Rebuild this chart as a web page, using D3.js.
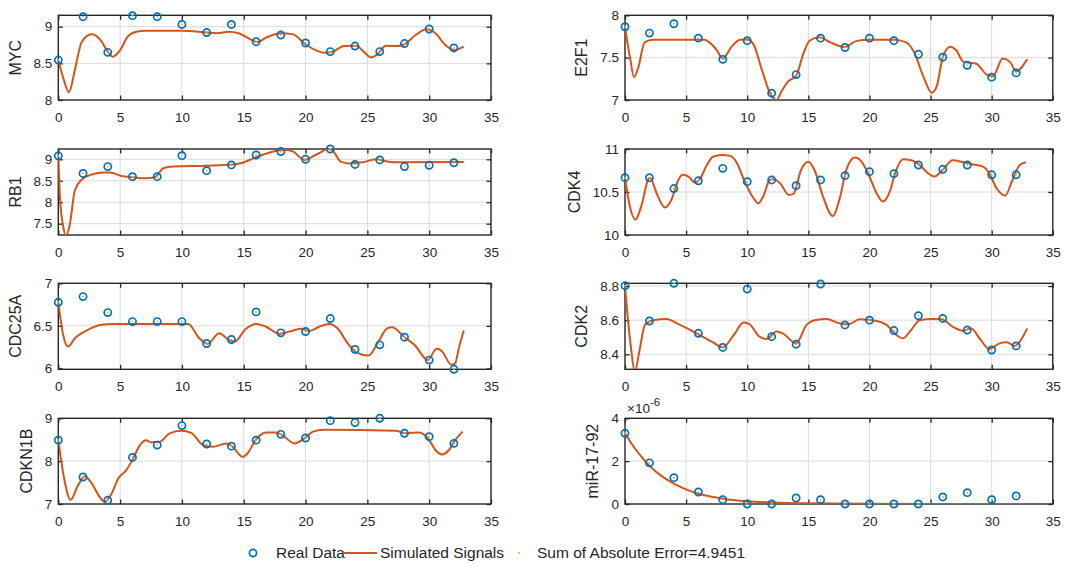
<!DOCTYPE html>
<html><head><meta charset="utf-8">
<script src="https://cdn.jsdelivr.net/npm/d3@7"></script>
<style>
html,body{margin:0;padding:0;background:#fff;}
svg{display:block;font-family:"Liberation Sans",Arial,Helvetica,sans-serif;}
</style></head>
<body><svg id="chart" width="1067" height="564"></svg>
<script>
// ---------------- DATA ----------------
const timePoints = [0,2,4,6,8,10,12,14,16,18,20,22,24,26,28,30,32];
const xTicks = [0,5,10,15,20,25,30,35];

const mycReal = [8.545,9.136,8.65,9.15,9.136,9.03,8.92,9.03,8.795,8.886,8.777,8.66,8.736,8.66,8.77,8.968,8.71];
const mycSimT = [0,0.4,0.86,1.34,1.9,2.7,3.4,4.0,4.4,5.0,5.6,6.3,7.1,10,12,12.8,13.8,14.6,15.3,16.1,16.8,18,19,19.9,20.8,21.5,22.2,23.1,24.1,24.7,25.3,25.8,26.5,27.4,28,28.9,29.8,30.5,31.3,32.0,32.8];
const mycSimV = [8.545,8.30,8.105,8.41,8.795,8.895,8.82,8.66,8.59,8.68,8.86,8.93,8.945,8.945,8.92,8.91,8.93,8.91,8.85,8.79,8.85,8.91,8.895,8.77,8.68,8.645,8.66,8.736,8.74,8.66,8.58,8.62,8.74,8.736,8.76,8.886,8.964,8.91,8.75,8.68,8.727];

const e2f1Real = [7.865,7.79,7.90,7.73,7.48,7.70,7.08,7.30,7.73,7.62,7.73,7.70,7.54,7.505,7.41,7.27,7.32];
const e2f1SimT = [0,0.4,0.74,1.1,1.6,2.3,6.5,6.9,7.5,8.0,8.7,9.4,10,10.5,11.2,11.85,12.4,12.8,13.35,14.0,14.6,15.1,15.9,16.8,18,18.9,20,22,23,23.7,24.4,25.1,25.5,26.0,26.6,27.1,27.7,28.2,28.7,29.6,30.1,30.9,31.5,32.0,32.9];
const e2f1SimV = [7.857,7.51,7.27,7.39,7.68,7.71,7.71,7.68,7.59,7.49,7.625,7.71,7.714,7.66,7.355,7.085,7.0,7.1,7.22,7.285,7.55,7.70,7.74,7.68,7.625,7.695,7.71,7.71,7.68,7.55,7.28,7.085,7.16,7.51,7.63,7.587,7.45,7.44,7.43,7.30,7.28,7.49,7.45,7.34,7.48];

const rb1Real = [9.08,8.67,8.83,8.595,8.595,9.085,8.735,8.87,9.10,9.18,9.0,9.24,8.88,8.985,8.83,8.86,8.92];
const rb1SimT = [0,0.13,0.4,0.62,0.94,1.34,1.9,2.55,3.6,4.2,5.1,6.05,7.1,7.8,8.5,9.3,12,14.1,14.9,16,17.1,18.3,19,19.9,20.8,21.9,22.2,22.85,23.5,24.6,25.7,26.7,27.55,32.8];
const rb1SimV = [9.08,8.13,7.43,7.21,7.5,8.28,8.53,8.63,8.69,8.69,8.61,8.58,8.556,8.58,8.79,8.83,8.85,8.88,8.92,9.05,9.16,9.22,9.18,8.985,9.10,9.24,9.2,8.945,8.905,8.93,9.0,8.945,8.93,8.937];

const cdk4Real = [10.667,10.667,10.54,10.63,10.775,10.62,10.64,10.574,10.64,10.69,10.736,10.713,10.814,10.764,10.814,10.70,10.70];
const cdk4SimT = [0,0.4,0.87,1.36,1.9,2.04,2.6,3.27,3.8,4.36,4.7,5.2,5.7,6.1,6.7,7.2,7.9,8.6,9.1,9.8,10.5,10.9,11.3,11.85,12.1,12.7,13.4,13.8,14.4,15.0,15.5,16.2,17.0,17.6,18.1,18.8,19.35,20.0,20.6,21.1,21.7,22.1,22.75,23.4,24.1,24.8,25.3,26.0,26.8,27.7,28.5,29.3,29.8,30.4,31.1,31.7,32.3,32.8];
const cdk4SimV = [10.667,10.33,10.18,10.35,10.647,10.667,10.48,10.32,10.41,10.64,10.70,10.68,10.61,10.647,10.814,10.91,10.93,10.92,10.85,10.62,10.43,10.37,10.446,10.64,10.647,10.60,10.465,10.48,10.756,10.853,10.756,10.446,10.22,10.446,10.756,10.90,10.853,10.68,10.48,10.39,10.52,10.717,10.88,10.87,10.814,10.717,10.68,10.76,10.87,10.845,10.82,10.795,10.717,10.543,10.457,10.64,10.814,10.845];

const cdc25aReal = [6.777,6.844,6.656,6.55,6.55,6.55,6.293,6.34,6.664,6.418,6.434,6.586,6.223,6.277,6.367,6.098,5.99];
const cdc25aSimT = [0,0.4,0.8,1.34,1.9,2.55,3.36,4.4,10.5,11.4,12.1,13.0,13.8,14.25,15.2,16.0,16.8,17.9,18.7,19.6,20.3,21.1,21.9,22.6,23.4,24.1,25.1,25.9,26.6,27.0,28.0,28.8,29.9,30.6,31.0,31.8,32.1,32.4,32.8];
const cdc25aSimV = [6.777,6.39,6.258,6.355,6.414,6.465,6.51,6.523,6.523,6.355,6.29,6.414,6.336,6.316,6.47,6.523,6.49,6.406,6.434,6.465,6.44,6.49,6.523,6.47,6.297,6.19,6.152,6.316,6.47,6.484,6.367,6.277,6.10,6.23,6.207,6.043,6.06,6.24,6.445];

const cdk2Real = [8.802,8.595,8.816,8.523,8.44,8.782,8.503,8.459,8.812,8.572,8.60,8.539,8.626,8.61,8.542,8.425,8.449];
const cdk2SimT = [0,0.4,0.82,1.17,1.63,2.3,3.4,4.5,5.86,7.2,8.0,8.9,9.7,10.2,11.0,11.6,12.4,12.9,14.0,14.85,15.5,16.5,17.6,18.3,19.2,20.6,21.4,22.2,22.75,23.4,24.1,25.1,25.9,26.8,27.65,28.3,29.0,29.8,30.65,31.2,31.9,32.3,32.9];
const cdk2SimV = [8.802,8.494,8.302,8.416,8.572,8.60,8.607,8.572,8.523,8.47,8.44,8.513,8.587,8.576,8.503,8.49,8.533,8.523,8.464,8.572,8.60,8.607,8.58,8.576,8.605,8.595,8.572,8.513,8.494,8.542,8.60,8.607,8.605,8.562,8.537,8.552,8.494,8.431,8.464,8.47,8.449,8.474,8.552];

const cdkn1bReal = [8.49,7.63,7.086,8.086,8.375,8.83,8.40,8.35,8.49,8.625,8.54,8.945,8.90,9.0,8.65,8.57,8.414];
const cdkn1bSimT = [0,0.4,1.0,1.6,2.15,2.7,3.36,3.76,4.3,4.84,5.5,6.05,6.6,7.1,7.5,8.2,9.0,9.95,10.75,11.7,12.5,13.6,14.1,14.9,15.3,16.0,16.8,17.6,18.1,19.1,19.9,20.6,21.5,27.3,28.1,29.2,30.0,30.5,31.05,31.6,32.1,32.7];
const cdkn1bSimV = [8.49,7.71,7.10,7.44,7.65,7.48,7.16,7.05,7.24,7.59,7.79,8.06,8.375,8.49,8.44,8.45,8.65,8.71,8.66,8.375,8.336,8.414,8.336,8.10,8.18,8.51,8.67,8.67,8.61,8.414,8.53,8.69,8.73,8.71,8.65,8.67,8.49,8.26,8.156,8.26,8.49,8.69];

// miR-17-92 values in units of 1e-6
const mirReal = [3.30,1.92,1.23,0.56,0.20,0.0,0.0,0.28,0.20,0.0,0.0,0.0,0.0,0.33,0.53,0.20,0.375];
const mirSimT = [0,0.5,1,1.5,2,3,4,5,6,7,8,10,12,15,20,25,32.9];
const mirSimV = [3.3,2.85,2.45,2.1,1.78,1.3,0.95,0.68,0.48,0.35,0.25,0.13,0.07,0.03,0.01,0.005,0.0];

const legendLabels = ["Real Data","Simulated Signals","Sum of Absolute Error=4.9451"];

// ---------------- LAYOUT / STYLE ----------------
const colX = [[58.3,491],[625,1052.8]];
const rowY = [[15.3,100],[149,235],[283.3,369.3],[418.3,504]];
const C_REAL = "#0072BD", C_SIM = "#D95319", C_DOT = "#EDB120", C_AX = "#262626";

const panels = [
  {name:"MYC",    col:0,row:0,dom:[8,9.155],  yt:[8,8.5,9],       real:mycReal,   st:mycSimT,   sv:mycSimV},
  {name:"E2F1",   col:1,row:0,dom:[7,8],      yt:[7,7.5,8],       real:e2f1Real,  st:e2f1SimT,  sv:e2f1SimV},
  {name:"RB1",    col:0,row:1,dom:[7.236,9.24],yt:[7.5,8,8.5,9],  real:rb1Real,   st:rb1SimT,   sv:rb1SimV},
  {name:"CDK4",   col:1,row:1,dom:[10,11],    yt:[10,10.5,11],    real:cdk4Real,  st:cdk4SimT,  sv:cdk4SimV},
  {name:"CDC25A", col:0,row:2,dom:[5.99,7],   yt:[6,6.5,7],       real:cdc25aReal,st:cdc25aSimT,sv:cdc25aSimV},
  {name:"CDK2",   col:1,row:2,dom:[8.312,8.816],yt:[8.4,8.6,8.8], real:cdk2Real,  st:cdk2SimT,  sv:cdk2SimV},
  {name:"CDKN1B", col:0,row:3,dom:[7,9],      yt:[7,8,9],         real:cdkn1bReal,st:cdkn1bSimT,sv:cdkn1bSimV},
  {name:"miR-17-92",col:1,row:3,dom:[0,4],    yt:[0,2,4],         real:mirReal,   st:mirSimT,   sv:mirSimV, exp:true}
];

const svg = d3.select("#chart");
const defs = svg.append("defs");
const TICKFS = 13.5, LABFS = 16;

panels.forEach((p,i)=>{
  const [x0,x1] = colX[p.col], [y0,y1] = rowY[p.row];
  const x = d3.scaleLinear().domain([0,35]).range([x0,x1]);
  const y = d3.scaleLinear().domain(p.dom).range([y1,y0]);
  const g = svg.append("g");

  // grid
  g.append("g").selectAll("line").data(xTicks.filter(t=>t>0&&t<35)).join("line")
    .attr("x1",d=>x(d)).attr("x2",d=>x(d)).attr("y1",y0).attr("y2",y1)
    .attr("stroke","#dadada").attr("stroke-width",1);
  g.append("g").selectAll("line").data(p.yt.filter(t=>y(t)>y0+1&&y(t)<y1-1)).join("line")
    .attr("y1",d=>y(d)).attr("y2",d=>y(d)).attr("x1",x0).attr("x2",x1)
    .attr("stroke","#dadada").attr("stroke-width",1);

  // axes (inward ticks on all four sides)
  const fmt = d => String(d);
  const axB = g.append("g").attr("transform",`translate(0,${y1})`)
    .call(d3.axisBottom(x).tickValues(xTicks).tickSizeInner(-4.5).tickSizeOuter(0).tickPadding(12).tickFormat(fmt));
  const axT = g.append("g").attr("transform",`translate(0,${y0})`)
    .call(d3.axisTop(x).tickValues(xTicks).tickSizeInner(-4.5).tickSizeOuter(0).tickFormat(""));
  const axL = g.append("g").attr("transform",`translate(${x0},0)`)
    .call(d3.axisLeft(y).tickValues(p.yt).tickSizeInner(-4.5).tickSizeOuter(0).tickPadding(6).tickFormat(fmt));
  const axR = g.append("g").attr("transform",`translate(${x1},0)`)
    .call(d3.axisRight(y).tickValues(p.yt).tickSizeInner(-4.5).tickSizeOuter(0).tickFormat(""));
  [axB,axT,axL,axR].forEach(a=>{
    a.select(".domain").remove();
    a.selectAll("line").attr("stroke",C_AX).attr("stroke-width",1.3);
    a.selectAll("text").attr("fill",C_AX).attr("font-size",TICKFS).attr("font-family","Liberation Sans, Arial, sans-serif");
  });
  axB.selectAll("text").attr("dy","0.71em");

  // box
  g.append("rect").attr("x",x0).attr("y",y0).attr("width",x1-x0).attr("height",y1-y0)
    .attr("fill","none").attr("stroke",C_AX).attr("stroke-width",1.4);

  // y label
  let maxW = 0;
  axL.selectAll("text").each(function(){ maxW = Math.max(maxW, this.getBBox().width); });
  const lx = x0 - 6 - maxW - 13;
  g.append("text").attr("transform",`translate(${lx},${(y0+y1)/2}) rotate(-90)`)
    .attr("text-anchor","middle").attr("font-size",LABFS).attr("fill",C_AX).text(p.name);

  if(p.exp){
    const t = g.append("text").attr("x",x0+2).attr("y",y0-5).attr("font-size",TICKFS).attr("fill",C_AX);
    t.append("tspan").text("×10");
    t.append("tspan").attr("dy",-7).attr("font-size",11.5).text("-6");
  }

  // clip + simulated line
  defs.append("clipPath").attr("id","clip"+i).append("rect")
    .attr("x",x0).attr("y",y0).attr("width",x1-x0).attr("height",y1-y0);
  const line = d3.line().x(d=>x(d[0])).y(d=>y(d[1])).curve(d3.curveMonotoneX);
  g.append("path").datum(p.st.map((t,k)=>[t,p.sv[k]]))
    .attr("clip-path",`url(#clip${i})`)
    .attr("d",line).attr("fill","none").attr("stroke",C_SIM).attr("stroke-width",2);

  // real data markers
  const pts = timePoints.map((t,k)=>[t,p.real[k]]);
  g.append("g").selectAll("circle").data(pts).join("circle")
    .attr("cx",d=>x(d[0])).attr("cy",d=>y(d[1])).attr("r",3.6)
    .attr("fill","none").attr("stroke",C_REAL).attr("stroke-width",1.7);
  g.append("g").selectAll("circle").data(pts).join("circle")
    .attr("cx",d=>x(d[0])).attr("cy",d=>y(d[1])).attr("r",1)
    .attr("fill",C_DOT);
});

// legend
const lg = svg.append("g");
const ly = 553;
const LGFS = 15.5;
lg.append("circle").attr("cx",253).attr("cy",ly).attr("r",3.6).attr("fill","none").attr("stroke",C_REAL).attr("stroke-width",1.7);
lg.append("text").attr("x",276).attr("y",ly+5).attr("font-size",LGFS).attr("fill",C_AX).text(legendLabels[0]);
lg.append("line").attr("x1",343).attr("x2",377).attr("y1",ly).attr("y2",ly).attr("stroke",C_SIM).attr("stroke-width",2);
lg.append("text").attr("x",380).attr("y",ly+5).attr("font-size",LGFS).attr("fill",C_AX).text(legendLabels[1]);
lg.append("circle").attr("cx",519).attr("cy",ly).attr("r",1).attr("fill",C_DOT);
lg.append("text").attr("x",537).attr("y",ly+5).attr("font-size",LGFS).attr("fill",C_AX).text(legendLabels[2]);
</script>
</body></html>
